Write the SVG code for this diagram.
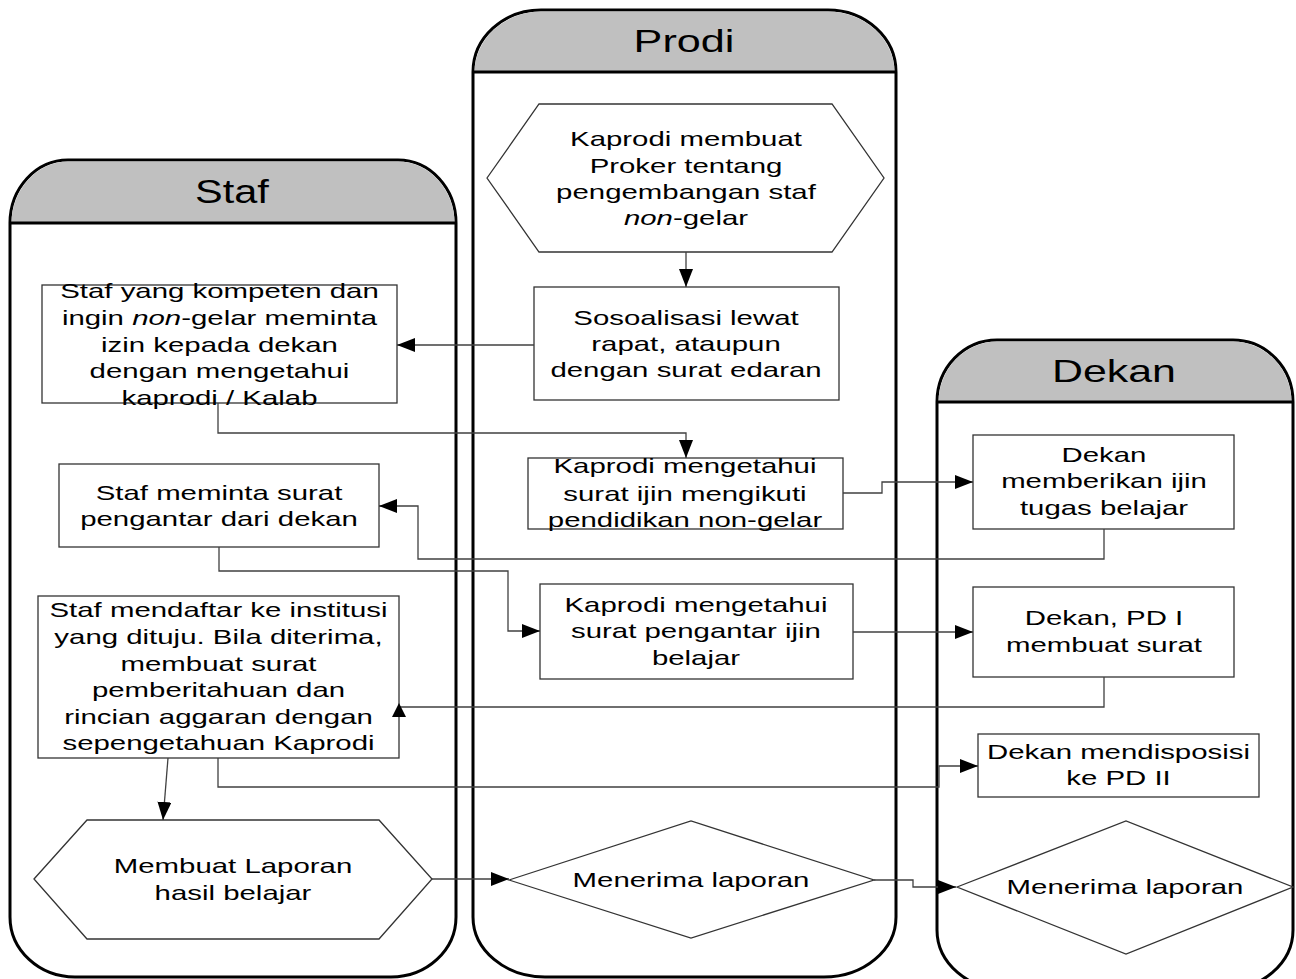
<svg xmlns="http://www.w3.org/2000/svg" width="1296" height="979" viewBox="0 0 1296 979">
<style>
.lane{fill:#ffffff;stroke:#000;stroke-width:3}
.head{fill:#c0c0c0;stroke:none}
.hline{stroke:#000;stroke-width:3;fill:none}
.node{fill:#ffffff;stroke:#333;stroke-width:1.3}
.conn{fill:none;stroke:#404040;stroke-width:1.3}
.t{font-family:"Liberation Sans",Arial,sans-serif;font-size:21px;fill:#000;text-anchor:middle}
.h{font-family:"Liberation Sans",Arial,sans-serif;fill:#000;text-anchor:middle}
</style>
<defs>
<marker id="arr" markerUnits="userSpaceOnUse" markerWidth="19" markerHeight="15" refX="18" refY="7" orient="auto">
<path d="M0,0 L18,7 L0,14 Z" fill="#000"/>
</marker>
</defs>
<rect width="1296" height="979" fill="#ffffff"/>
<g id="lane-staf">
<path class="lane" d="M10,223 V917 A65,60 0 0 0 75,977 H391 A65,60 0 0 0 456,917 V223 A58,63 0 0 0 398,160 H68 A58,63 0 0 0 10,223 Z"/>
<path class="head" d="M11.5,223 A57,62 0 0 1 68,161.5 H398 A57,62 0 0 1 454.5,223 Z"/>
<line class="hline" x1="10" y1="223" x2="456" y2="223"/>
<text class="h" font-size="34" transform="translate(232 0) scale(1.22 1)" x="0" y="203">Staf</text>
</g>
<g id="lane-prodi">
<path class="lane" d="M473,72 V917 A72,60 0 0 0 545,977 H824 A72,60 0 0 0 896,917 V72 A68,62 0 0 0 828,10 H541 A68,62 0 0 0 473,72 Z"/>
<path class="head" d="M474.5,72 A67,61 0 0 1 541,11.5 H828 A67,61 0 0 1 894.5,72 Z"/>
<line class="hline" x1="473" y1="72" x2="896" y2="72"/>
<text class="h" font-size="32" transform="translate(684 0) scale(1.35 1)" x="0" y="52">Prodi</text>
</g>
<g id="lane-dekan">
<path class="lane" d="M937,402 V930 A70,60 0 0 0 1007,990 H1223 A70,60 0 0 0 1293,930 V402 A60,62 0 0 0 1233,340 H997 A60,62 0 0 0 937,402 Z"/>
<path class="head" d="M938.5,402 A59,61 0 0 1 997,341.5 H1233 A59,61 0 0 1 1291.5,402 Z"/>
<line class="hline" x1="937" y1="402" x2="1293" y2="402"/>
<text class="h" font-size="32" transform="translate(1114 0) scale(1.34 1)" x="0" y="382">Dekan</text>
</g>
<g id="n-proker">
<polygon class="node" points="487,178 539,104 832,104 884,178 832,252 539,252"/>
<g class="t" transform="translate(686 0) scale(1.4 1)">
<text x="0" y="146">Kaprodi membuat</text>
<text x="0" y="173">Proker tentang</text>
<text x="0" y="199">pengembangan staf</text>
<text x="0" y="225"><tspan font-style="italic">non</tspan>-gelar</text>
</g>
</g>
<g id="n-sosialisasi">
<rect class="node" x="534" y="287" width="305" height="113"/>
<g class="t" transform="translate(686 0) scale(1.4 1)">
<text x="0" y="325">Sosoalisasi lewat</text>
<text x="0" y="351">rapat, ataupun</text>
<text x="0" y="377">dengan surat edaran</text>
</g>
</g>
<g id="n-staf-izin">
<rect class="node" x="42" y="285" width="355" height="118"/>
<g class="t" transform="translate(219.5 0) scale(1.4 1)">
<text x="0" y="298">Staf yang kompeten dan</text>
<text x="0" y="325">ingin <tspan font-style="italic">non</tspan>-gelar meminta</text>
<text x="0" y="352">izin kepada dekan</text>
<text x="0" y="378">dengan mengetahui</text>
<text x="0" y="405">kaprodi / Kalab</text>
</g>
</g>
<g id="n-kaprodi-ijin">
<rect class="node" x="528" y="458" width="315" height="71"/>
<g class="t" transform="translate(685 0) scale(1.4 1)">
<text x="0" y="473">Kaprodi mengetahui</text>
<text x="0" y="501">surat ijin mengikuti</text>
<text x="0" y="527">pendidikan non-gelar</text>
</g>
</g>
<g id="n-dekan-ijin">
<rect class="node" x="973" y="435" width="261" height="94"/>
<g class="t" transform="translate(1104 0) scale(1.4 1)">
<text x="0" y="462">Dekan</text>
<text x="0" y="488">memberikan ijin</text>
<text x="0" y="515">tugas belajar</text>
</g>
</g>
<g id="n-staf-pengantar">
<rect class="node" x="59" y="464" width="320" height="83"/>
<g class="t" transform="translate(219 0) scale(1.4 1)">
<text x="0" y="500">Staf meminta surat</text>
<text x="0" y="526">pengantar dari dekan</text>
</g>
</g>
<g id="n-kaprodi-pengantar">
<rect class="node" x="540" y="584" width="313" height="95"/>
<g class="t" transform="translate(696 0) scale(1.4 1)">
<text x="0" y="612">Kaprodi mengetahui</text>
<text x="0" y="638">surat pengantar ijin</text>
<text x="0" y="665">belajar</text>
</g>
</g>
<g id="n-dekan-pd1">
<rect class="node" x="973" y="587" width="261" height="90"/>
<g class="t" transform="translate(1104 0) scale(1.4 1)">
<text x="0" y="625">Dekan, PD I</text>
<text x="0" y="652">membuat surat</text>
</g>
</g>
<g id="n-staf-daftar">
<rect class="node" x="38" y="596" width="361" height="162"/>
<g class="t" transform="translate(218.5 0) scale(1.4 1)">
<text x="0" y="617">Staf mendaftar ke institusi</text>
<text x="0" y="644">yang dituju. Bila diterima,</text>
<text x="0" y="671">membuat surat</text>
<text x="0" y="697">pemberitahuan dan</text>
<text x="0" y="724">rincian aggaran dengan</text>
<text x="0" y="750">sepengetahuan Kaprodi</text>
</g>
</g>
<g id="n-dekan-disposisi">
<rect class="node" x="978" y="734" width="281" height="63"/>
<g class="t" transform="translate(1118.5 0) scale(1.4 1)">
<text x="0" y="759">Dekan mendisposisi</text>
<text x="0" y="785">ke PD II</text>
</g>
</g>
<g id="n-laporan">
<polygon class="node" points="34,879 87,820 379,820 432,879 379,939 87,939"/>
<g class="t" transform="translate(233 0) scale(1.4 1)">
<text x="0" y="873">Membuat Laporan</text>
<text x="0" y="900">hasil belajar</text>
</g>
</g>
<g id="n-prodi-terima">
<polygon class="node" points="509,880 691,821 874,880 691,938"/>
<g class="t" transform="translate(691 0) scale(1.4 1)">
<text x="0" y="887">Menerima laporan</text>
</g>
</g>
<g id="n-dekan-terima">
<polygon class="node" points="957,887 1126,821 1293,887 1126,954"/>
<g class="t" transform="translate(1125 0) scale(1.4 1)">
<text x="0" y="894">Menerima laporan</text>
</g>
</g>
<g id="connectors">
<path class="conn" d="M686,252 V287" marker-end="url(#arr)"/>
<path class="conn" d="M534,345 H397" marker-end="url(#arr)"/>
<path class="conn" d="M218,403 V433 H686 V458" marker-end="url(#arr)"/>
<path class="conn" d="M843,493 H882 V482 H973" marker-end="url(#arr)"/>
<path class="conn" d="M1104,529 V559 H418 V506 H379" marker-end="url(#arr)"/>
<path class="conn" d="M219,547 V571 H508 V631 H540" marker-end="url(#arr)"/>
<path class="conn" d="M853,632 H973" marker-end="url(#arr)"/>
<path class="conn" d="M1104,677 V707 H399"/>
<polygon points="399,703 392,717 406,717" fill="#000"/>
<path class="conn" d="M168,758 L163,820" marker-end="url(#arr)"/>
<path class="conn" d="M218,758 V787 H939 V766 H978" marker-end="url(#arr)"/>
<path class="conn" d="M432,879 H509" marker-end="url(#arr)"/>
<path class="conn" d="M874,880 H913 V887 H956" marker-end="url(#arr)"/>
</g>
</svg>
